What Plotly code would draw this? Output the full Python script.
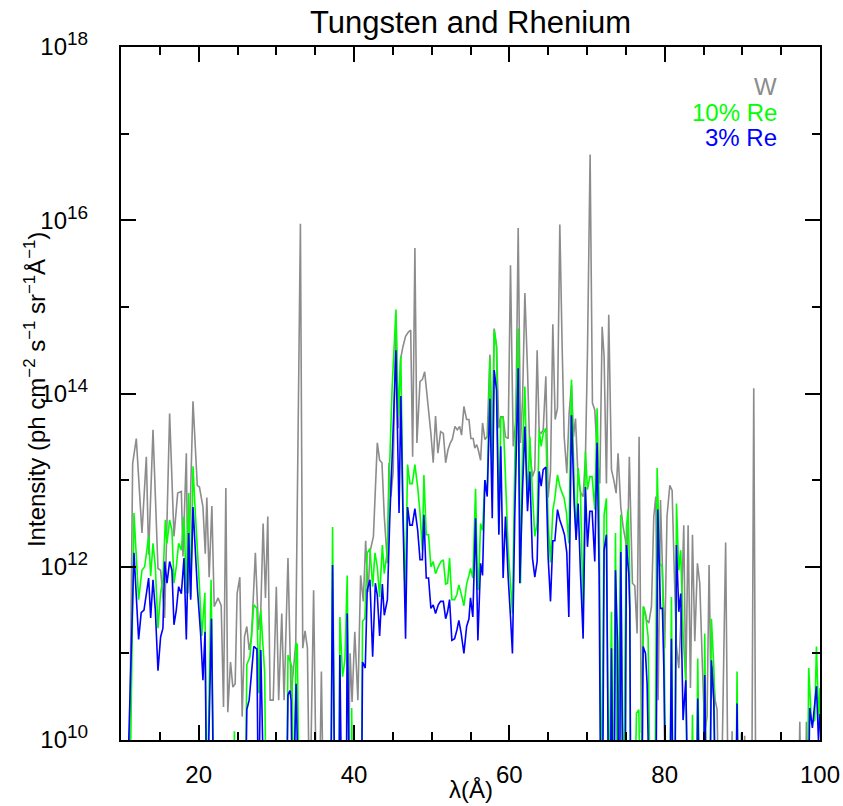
import plotly.graph_objects as go

# ---------------- data (lambda in Angstrom, log10 intensity) -------------
# values of 9.0 mean "below the bottom of the axis (1e10)"
w_lambda = [10.0, 11.0, 11.5, 11.97, 12.7, 13.26, 13.56, 14.12, 14.76, 15.1, 15.62, 16.26, 16.82, 17.3, 17.77,
            17.98, 18.41, 18.62, 19.27, 19.82, 20.1, 20.55, 20.85, 21.05, 21.35, 21.7, 22.0, 22.5, 22.9, 23.2,
            23.5, 23.75, 24.1, 24.4, 24.7, 24.95, 25.3, 25.6, 25.9, 26.2, 26.5, 26.8, 27.3, 27.7, 28.0,
            28.3, 28.6, 28.9, 29.2, 29.6, 30.0, 30.3, 30.7, 31.0, 31.5, 31.9, 32.5, 33.1, 33.4, 33.7,
            34.0, 34.3, 34.8, 35.2, 35.5, 35.8, 36.1, 39.2, 39.5, 39.75, 40.1, 40.5, 40.85, 41.2, 41.5,
            41.8, 42.1, 42.5, 43.0, 43.3, 43.6, 43.9, 44.3, 44.5, 44.75, 45.05, 45.4, 45.7, 46.0, 46.3,
            46.64, 47.0, 47.3, 47.55, 47.84, 48.1, 48.5, 48.8, 49.1, 49.55, 49.9, 50.2, 50.5, 50.8, 51.15,
            51.5, 51.8, 52.1, 52.4, 52.65, 53.0, 53.3, 53.6, 53.85, 54.15, 54.5, 54.8, 55.05, 55.35, 55.55,
            55.8, 56.0, 56.3, 56.55, 56.85, 57.15, 57.5, 57.8, 58.05, 58.35, 58.65, 58.9, 59.2, 59.5, 59.85,
            60.15, 60.5, 60.84, 61.14, 61.44, 61.7, 62.0, 62.34, 62.64, 62.98, 63.28, 63.58, 63.84, 64.1, 64.36,
            64.7, 65.0, 65.3, 65.6, 65.9, 66.2, 66.5, 66.8, 67.06, 67.4, 67.7, 68.0, 68.25, 68.52, 68.86,
            69.2, 69.5, 69.8, 70.06, 70.4, 70.7, 71.0, 71.35, 71.65, 71.95, 72.2, 72.5, 72.8, 73.15, 73.45,
            73.75, 74.0, 74.35, 74.65, 74.95, 75.2, 75.45, 75.6, 75.85, 76.15, 76.45, 76.71, 77.0, 77.3, 77.65,
            77.96, 78.3, 78.6, 78.86, 79.16, 79.46, 79.71, 80.0, 80.3, 80.66, 80.96, 81.22, 81.52, 81.82, 82.16,
            82.46, 82.72, 83.02, 83.32, 83.58, 83.88, 84.22, 84.52, 84.86, 85.16, 85.46, 85.72, 85.98, 86.24, 86.5,
            86.75, 87.0, 87.25, 87.85, 88.2, 88.55, 88.68, 88.8, 89.75, 89.88, 90.0, 90.2, 90.3, 90.4, 91.2,
            91.47, 91.75, 97.2, 97.4, 97.6, 98.1, 98.25, 98.4, 100.0]
w_log10 = [9.0, 9.0, 13.19, 13.48, 12.39, 13.27, 12.14, 13.58, 11.98, 11.96, 11.41, 13.77, 12.35, 12.85, 12.87,
           12.12, 13.31, 11.69, 13.91, 12.94, 12.92, 12.69, 12.15, 12.8, 11.88, 12.7, 11.54, 11.64, 11.55, 10.38,
           12.91, 10.32, 10.9, 10.61, 10.65, 11.69, 11.88, 10.27, 11.19, 11.31, 11.04, 11.19, 12.16, 11.27, 11.5,
           12.5, 11.64, 12.58, 10.46, 10.46, 11.77, 10.46, 11.46, 10.46, 12.1, 10.5, 11.12, 15.96, 11.06, 11.26,
           11.06, 9.0, 11.73, 9.0, 9.0, 10.79, 9.0, 9.0, 11.0, 10.44, 11.25, 10.46, 11.9, 11.6, 12.3,
           11.71, 12.19, 12.35, 13.43, 13.23, 13.2, 12.58, 12.04, 13.2, 12.81, 13.1, 14.9, 13.6, 14.4, 14.54,
           14.66, 14.71, 14.73, 13.27, 15.68, 13.43, 14.14, 14.16, 14.25, 13.85, 13.54, 13.2, 13.74, 13.31, 13.56,
           13.54, 13.2, 13.35, 13.43, 13.47, 13.62, 13.58, 13.62, 13.52, 13.85, 13.7, 13.7, 13.48, 13.48, 13.37,
           13.41, 13.35, 13.23, 13.66, 13.47, 13.5, 14.45, 13.4, 14.75, 14.55, 13.6, 13.73, 13.73, 13.5, 13.48,
           15.48, 13.39, 13.7, 15.91, 13.43, 13.93, 15.16, 14.27, 13.31, 13.04, 13.12, 14.5, 13.56, 13.54, 13.58,
           14.2, 12.8, 13.1, 14.8, 13.7, 13.83, 15.95, 14.54, 13.5, 13.08, 13.77, 14.1, 13.5, 13.71, 13.0,
           12.85, 12.81, 13.27, 14.47, 16.76, 13.89, 13.81, 13.23, 12.96, 14.77, 14.43, 12.96, 14.91, 13.12, 13.0,
           12.85, 13.31, 12.69, 12.46, 12.31, 12.08, 13.27, 12.7, 11.81, 11.78, 11.23, 13.5, 10.08, 11.54, 11.39,
           11.35, 11.54, 12.58, 12.81, 10.46, 12.77, 12.0, 11.06, 12.58, 12.94, 12.88, 12.0, 11.08, 10.83, 11.52,
           12.48, 10.58, 12.48, 10.6, 12.37, 11.14, 12.04, 11.81, 10.85, 10.08, 10.27, 12.02, 10.46, 10.85, 10.46,
           10.35, 9.0, 9.0, 12.28, 9.0, 9.0, 10.1, 9.0, 9.0, 10.08, 9.0, 9.0, 10.05, 9.0, 9.0,
           14.06, 9.0, 9.0, 10.21, 9.0, 9.0, 10.21, 9.0, 9.0]

re10_lambda = [10.0, 11.1, 11.67, 12.27, 12.7, 13.05, 13.56, 13.82, 14.12, 14.42, 14.76, 15.1, 15.4, 15.71, 15.92,
               16.26, 16.56, 16.82, 17.12, 17.42, 17.77, 18.11, 18.41, 18.71, 18.97, 19.27, 19.57, 20.1, 20.4, 20.8,
               21.05, 21.6, 22.0, 24.5, 24.6, 24.7, 26.0, 26.2, 26.6, 27.1, 27.5, 27.75, 28.0, 28.5, 28.7,
               31.3, 31.5, 32.0, 32.25, 32.55, 32.7, 32.95, 37.0, 37.24, 37.55, 38.05, 38.18, 38.53, 38.83, 39.13,
               39.4, 39.6, 39.7, 39.85, 40.95, 41.1, 41.4, 41.7, 42.05, 42.4, 42.7, 43.0, 43.3, 43.65, 43.9,
               44.3, 44.6, 44.9, 45.4, 45.7, 46.03, 46.3, 46.6, 46.9, 47.2, 47.5, 47.84, 48.2, 48.5, 48.8,
               49.0, 49.3, 49.6, 49.9, 50.2, 50.5, 50.85, 51.2, 51.5, 51.8, 52.05, 52.3, 52.6, 52.95, 53.25,
               53.5, 53.8, 54.15, 54.5, 54.8, 55.0, 55.3, 55.65, 55.9, 56.0, 56.3, 56.55, 56.85, 57.15, 57.5,
               57.8, 58.05, 58.35, 58.65, 58.9, 59.2, 59.5, 59.85, 60.15, 60.4, 60.7, 61.14, 61.44, 61.7, 62.0,
               62.34, 62.64, 62.98, 63.28, 63.58, 63.84, 64.1, 64.36, 64.7, 65.0, 65.3, 65.6, 65.86, 66.2, 66.5,
               66.8, 67.06, 67.36, 67.66, 68.0, 68.35, 68.6, 68.86, 69.16, 69.5, 69.8, 70.06, 70.36, 70.66, 71.0,
               71.3, 71.56, 71.86, 72.2, 72.5, 72.8, 73.15, 73.36, 73.67, 73.92, 74.35, 74.65, 75.08, 75.3, 75.48,
               75.64, 76.1, 76.37, 76.67, 76.93, 77.23, 77.53, 77.87, 78.17, 78.73, 79.03, 79.37, 79.67, 79.93, 80.23,
               80.66, 80.87, 81.09, 81.3, 81.52, 81.82, 82.07, 82.37, 82.72, 83.0, 83.4, 83.58, 83.75, 84.05, 84.26,
               84.52, 84.95, 85.16, 85.38, 85.8, 86.02, 86.32, 86.58, 89.15, 89.32, 89.5, 98.35, 98.55, 98.9, 99.32,
               99.54, 99.84, 100.0]
re10_log10 = [9.0, 9.0, 12.62, 11.62, 11.96, 12.0, 12.35, 11.89, 12.27, 12.0, 11.29, 11.7, 11.85, 12.54, 12.27,
              12.54, 12.42, 11.81, 12.0, 12.27, 12.19, 12.58, 11.69, 12.85, 11.65, 13.16, 12.62, 11.77, 11.2, 11.7,
              9.0, 11.85, 9.0, 9.0, 10.1, 9.0, 9.0, 10.87, 10.96, 11.56, 11.52, 10.54, 11.5, 10.77, 9.0,
              9.0, 10.98, 10.85, 9.0, 11.12, 11.1, 9.0, 9.0, 12.46, 9.0, 9.0, 11.42, 10.73, 10.92, 11.9,
              9.0, 9.0, 10.37, 9.0, 9.0, 11.37, 11.4, 12.16, 12.21, 11.77, 12.16, 12.0, 11.65, 12.25, 11.92,
              12.19, 13.2, 14.05, 14.97, 13.73, 14.43, 12.73, 11.6, 13.18, 12.96, 12.96, 13.18, 12.92, 12.62, 12.19,
              13.06, 12.37, 12.37, 12.0, 12.06, 11.92, 12.0, 12.06, 12.08, 11.8, 11.81, 12.1, 11.62, 11.62, 11.68,
              11.79, 11.69, 11.55, 11.8, 11.9, 11.98, 11.87, 12.9, 11.85, 11.73, 12.5, 12.42, 13.0, 12.85, 14.41,
              13.04, 14.73, 14.54, 12.39, 13.72, 13.72, 13.04, 12.19, 11.81, 11.46, 13.2, 14.75, 11.81, 13.35, 14.08,
              12.73, 13.5, 12.85, 12.35, 12.5, 13.58, 13.39, 13.54, 13.6, 12.5, 12.05, 12.65, 12.79, 13.06, 12.93,
              12.85, 12.79, 12.62, 12.27, 14.16, 12.96, 12.31, 13.14, 12.85, 11.46, 13.33, 12.89, 13.04, 13.04, 12.66,
              13.83, 12.77, 9.0, 12.6, 12.79, 9.0, 11.48, 9.0, 12.39, 9.0, 12.6, 9.0, 12.46, 12.66, 12.0,
              9.0, 9.0, 10.31, 10.35, 9.0, 11.54, 11.46, 11.19, 9.0, 9.0, 13.14, 12.04, 12.0, 11.08, 9.0,
              9.0, 11.65, 9.0, 9.0, 12.73, 11.96, 12.19, 11.23, 10.69, 9.0, 9.0, 10.29, 9.0, 9.0, 10.94,
              9.0, 9.0, 11.23, 9.0, 9.0, 11.4, 10.85, 9.0, 9.0, 10.79, 9.0, 9.0, 10.83, 10.19, 10.23,
              11.08, 10.2, 10.6]

re3_lambda = [10.0, 10.69, 11.67, 12.27, 12.6, 12.96, 13.56, 13.82, 14.12, 14.42, 14.76, 15.1, 15.4, 15.62, 15.92,
              16.26, 16.56, 16.82, 17.12, 17.42, 17.77, 18.11, 18.41, 18.71, 18.97, 19.27, 19.82, 20.25, 20.55, 20.82,
              21.05, 21.65, 21.95, 26.0, 26.2, 26.5, 27.1, 27.5, 27.7, 28.0, 28.45, 31.3, 31.5, 31.75, 31.9,
              32.1, 32.55, 32.9, 37.0, 37.24, 37.55, 38.05, 38.18, 38.45, 39.0, 39.13, 39.45, 40.95, 41.1, 41.45,
              41.7, 42.05, 42.4, 42.75, 43.0, 43.3, 43.65, 43.9, 44.3, 44.6, 44.9, 45.4, 45.8, 46.03, 46.3,
              46.64, 46.9, 47.2, 47.5, 47.84, 48.2, 48.5, 48.8, 49.0, 49.3, 49.6, 49.9, 50.2, 50.5, 50.85,
              51.15, 51.5, 51.8, 52.05, 52.3, 52.6, 52.95, 53.25, 53.5, 53.8, 54.15, 54.5, 54.8, 55.0, 55.3,
              55.65, 55.95, 56.3, 56.55, 56.85, 57.15, 57.5, 57.8, 58.05, 58.35, 58.65, 58.9, 59.2, 59.5, 59.85,
              60.15, 60.4, 60.7, 61.14, 61.35, 61.7, 62.0, 62.34, 62.64, 62.98, 63.28, 63.58, 63.84, 64.1, 64.36,
              64.7, 65.0, 65.3, 65.6, 65.86, 66.2, 66.5, 66.8, 67.1, 67.4, 67.66, 68.0, 68.35, 68.6, 68.86,
              69.16, 69.5, 69.8, 70.06, 70.36, 70.66, 71.0, 71.3, 71.56, 71.78, 72.0, 72.2, 72.5, 72.8, 73.0,
              73.15, 73.36, 73.5, 73.67, 73.92, 74.1, 74.2, 74.35, 74.65, 74.9, 75.08, 75.38, 75.51, 75.64, 77.05,
              77.23, 77.53, 77.74, 78.08, 78.86, 79.11, 79.46, 79.71, 79.89, 80.14, 80.66, 80.87, 81.09, 81.3, 81.52,
              81.82, 82.07, 82.37, 82.72, 83.02, 84.1, 84.26, 84.52, 84.95, 85.16, 85.38, 85.8, 86.02, 86.32, 86.58,
              89.15, 89.32, 89.5, 98.45, 98.68, 99.02, 99.54, 99.8, 100.0]
re3_log10 = [9.0, 9.0, 12.16, 11.16, 11.47, 11.5, 11.87, 11.41, 11.85, 11.5, 10.8, 11.19, 11.29, 12.06, 11.81,
             12.06, 11.96, 11.33, 11.5, 11.77, 11.69, 12.1, 11.16, 12.39, 11.62, 12.69, 11.77, 11.23, 10.69, 11.25,
             9.0, 11.4, 9.0, 9.0, 10.35, 10.46, 11.08, 11.05, 9.0, 11.04, 9.0, 9.0, 10.52, 10.57, 10.46,
             9.0, 10.65, 9.0, 9.0, 12.02, 9.0, 9.0, 10.98, 9.0, 9.0, 11.46, 9.0, 9.0, 10.9, 10.83,
             11.73, 11.85, 10.96, 11.81, 11.67, 11.2, 11.8, 11.44, 11.62, 12.54, 13.23, 14.5, 12.62, 13.97, 12.62,
             11.17, 12.69, 12.48, 12.48, 12.67, 12.42, 12.08, 12.08, 12.6, 11.87, 11.87, 11.52, 11.56, 11.46, 11.56,
             11.6, 11.6, 11.4, 11.48, 11.62, 11.15, 11.17, 11.27, 11.38, 11.23, 11.0, 11.31, 11.4, 11.64, 11.42,
             12.56, 11.15, 12.04, 11.9, 13.0, 12.81, 13.94, 12.56, 14.27, 14.04, 12.37, 13.39, 11.87, 12.58, 11.88,
             11.42, 11.0, 12.58, 14.29, 11.81, 12.89, 13.62, 12.64, 13.1, 12.1, 11.88, 12.06, 13.1, 12.93, 13.12,
             13.15, 12.1, 11.6, 12.3, 12.3, 12.66, 12.54, 12.46, 12.37, 12.16, 11.42, 13.75, 12.73, 12.31, 12.73,
             11.92, 11.17, 12.92, 12.23, 12.64, 12.64, 12.06, 13.43, 11.92, 9.0, 9.0, 12.19, 12.37, 9.0, 9.0,
             11.06, 9.0, 9.0, 11.96, 11.15, 9.0, 9.0, 12.17, 9.0, 9.0, 12.25, 11.92, 11.52, 9.0, 9.0,
             11.08, 11.0, 10.65, 9.0, 9.0, 12.66, 11.52, 11.52, 10.85, 9.0, 9.0, 11.17, 9.0, 9.0, 12.25,
             11.48, 11.69, 10.23, 10.69, 9.0, 9.0, 10.48, 9.0, 9.0, 10.75, 9.0, 9.0, 10.92, 10.46, 9.0,
             9.0, 10.42, 9.0, 9.0, 10.37, 10.14, 10.62, 10.0, 10.3]

series_names = ["W", "10% Re", "3% Re"]
series_colors = ["#8c8c8c", "#00ff00", "#0000ff"]
y_major_exponents = [10, 12, 14, 16, 18]
y_minor_exponents = [11, 13, 15, 17]

FONT = "Liberation Sans, Arial, Helvetica, sans-serif"

fig = go.Figure()
for lam, lg, name, col in zip([w_lambda, re10_lambda, re3_lambda],
                              [w_log10, re10_log10, re3_log10],
                              series_names, series_colors):
    fig.add_trace(go.Scatter(x=lam, y=[10.0 ** v for v in lg], mode="lines", name=name,
                             line=dict(color=col, width=1.6, simplify=False),
                             showlegend=False, hoverinfo="skip"))

fig.update_layout(
    width=843, height=806,
    margin=dict(l=121, r=23, t=47, b=66, autoexpand=False),
    paper_bgcolor="white", plot_bgcolor="white",
    font=dict(family=FONT, color="black", size=24),
)

fig.update_xaxes(
    range=[10, 100], tick0=0, dtick=20, ticks="inside", ticklen=15, tickwidth=2, tickcolor="black",
    showline=True, linewidth=2, linecolor="black", mirror="allticks", showgrid=False, zeroline=False,
    tickfont=dict(size=24, family=FONT), ticklabelstandoff=12,
    minor=dict(ticks="inside", ticklen=8, tickwidth=1.5, tickcolor="black", tick0=0, dtick=5, showgrid=False),
)
fig.update_yaxes(
    type="log", range=[10, 18],
    tickmode="array",
    tickvals=[10.0 ** e for e in y_major_exponents],
    ticktext=["10<sup><span style='font-size:19px'>%d</span></sup>" % e for e in y_major_exponents],
    ticks="inside", ticklen=15, tickwidth=2, tickcolor="black",
    showline=True, linewidth=2, linecolor="black", mirror="allticks", showgrid=False, zeroline=False,
    tickfont=dict(size=24, family=FONT), ticklabelstandoff=26,
    minor=dict(ticks="inside", ticklen=8, tickwidth=1.5, tickcolor="black",
               tickvals=[10.0 ** e for e in y_minor_exponents], showgrid=False),
)

# title
fig.add_annotation(text="Tungsten and Rhenium", xref="paper", yref="paper", x=0.5, y=1.036,
                   xanchor="center", yanchor="middle", showarrow=False, font=dict(size=31, family=FONT))
# axis titles
fig.add_annotation(text="λ(Å)", xref="paper", yref="paper", x=0.5, y=-0.072,
                   xanchor="center", yanchor="middle", showarrow=False, font=dict(size=24, family=FONT))
fig.add_annotation(text="Intensity (ph cm<sup>−2</sup> s<sup>−1</sup> sr<sup>−1</sup>Å<sup>−1</sup>)",
                   xref="paper", yref="paper", x=-0.123, y=0.505, textangle=-90,
                   xanchor="center", yanchor="middle", showarrow=False, font=dict(size=24, family=FONT))
# legend text
legend_y = [0.9423, 0.9048, 0.8687]
for name, col, yy in zip(series_names, series_colors, legend_y):
    fig.add_annotation(text=name, xref="paper", yref="paper", x=0.9413, y=yy, xanchor="right",
                       yanchor="middle", showarrow=False, font=dict(size=24, family=FONT, color=col))

# remove the default 8 px page margin so the figure fills the window exactly; hide the mode bar
fig.write_html("out.html", config={"displayModeBar": False},
               post_script="document.body.style.margin='0';")
